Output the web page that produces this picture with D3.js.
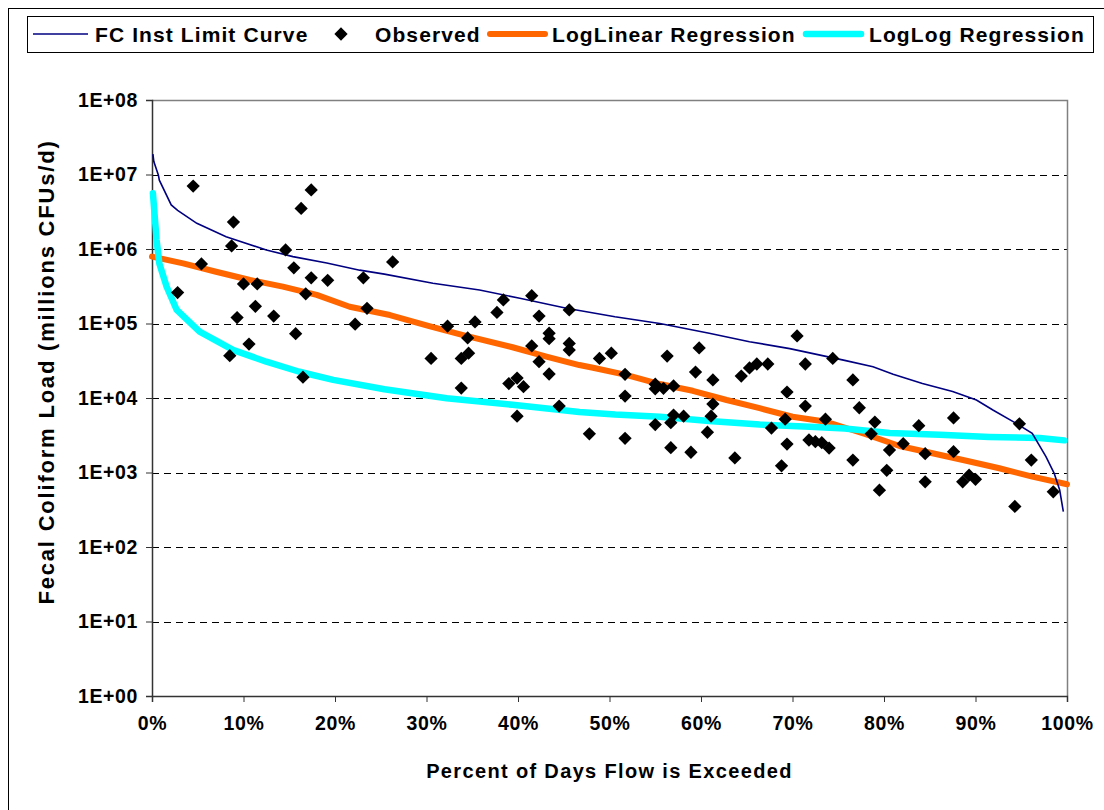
<!DOCTYPE html>
<html>
<head>
<meta charset="utf-8">
<title>Fecal Coliform Load Duration Curve</title>
<script src="https://cdn.jsdelivr.net/npm/d3@7"></script>
<style>
  html, body { margin: 0; padding: 0; background: #fff; }
  svg { display: block; font-family: "Liberation Sans", Arial, sans-serif; font-weight: bold; }
</style>
</head>
<body>
<script>
// ---- data ----
var limitPct  = [0.1, 0.2, 0.7, 0.8, 2.1, 2.8, 4.9, 8.1, 12.5, 15.4, 19.1, 22.7, 25.4, 30.7, 35.8, 40.2, 45.3, 50.6, 55.5, 60.9, 65.3, 69.7, 75.7, 78.8, 81.0, 84.2, 87.5, 90.1, 91.9, 94.4, 96.2, 97.7, 98.6, 99.2, 99.6];
var limitLoad = [1.88e7, 1.49e7, 9.8e6, 8.4e6, 3.9e6, 3.3e6, 2.21e6, 1.46e6, 9.7e5, 7.9e5, 6.5e5, 5.2e5, 4.6e5, 3.47e5, 2.82e5, 2.18e5, 1.6e5, 1.23e5, 1.0e5, 7.4e4, 5.7e4, 4.6e4, 3.2e4, 2.63e4, 2.08e4, 1.57e4, 1.22e4, 9.4e3, 6.9e3, 4.6e3, 3.36e3, 1.63e3, 975, 582, 298];

var obsPct = [4.5, 17.4, 16.3, 8.9, 8.7, 14.6, 5.4, 15.5, 17.4, 19.2, 23.1, 10.0, 11.5, 2.8, 16.8, 11.3, 23.5, 9.3, 13.3, 22.2, 15.7, 10.6, 8.5, 16.5,
  26.3, 41.5, 38.4, 37.7, 42.3, 45.6, 32.3, 35.3, 34.5, 43.4, 43.4, 45.6, 45.6, 41.5, 30.5, 33.8, 34.6, 42.3, 43.4, 48.9, 50.2, 33.8, 39.0, 39.9, 40.6, 39.9, 44.5, 47.8,
  56.3, 59.8, 70.5, 74.4, 51.7, 59.4, 61.3, 64.4, 65.3, 66.1, 67.3, 71.4, 55.0, 55.0, 55.9, 57.0, 51.7, 69.4, 61.3, 71.4, 57.0, 58.1, 61.1, 56.7, 55.0, 69.2, 73.6, 67.7, 60.7, 51.7, 71.8, 72.5, 73.2, 74.0, 69.4, 56.7, 58.9, 63.7, 68.8,
  76.6, 77.3, 79.0, 78.6, 83.8, 87.6, 94.8, 76.6, 80.6, 82.1, 84.5, 87.6, 96.1, 80.3, 79.5, 84.5, 88.6, 89.3, 90.0, 94.3, 98.5];
var obsLoad = [7.0e6, 6.2e6, 3.5e6, 2.3e6, 1.1e6, 9.7e5, 6.3e5, 5.6e5, 4.1e5, 3.8e5, 4.1e5, 3.4e5, 3.4e5, 2.6e5, 2.5e5, 1.7e5, 1.6e5, 1.2e5, 1.26e5, 9.8e4, 7.3e4, 5.3e4, 3.7e4, 1.9e4,
  6.7e5, 2.36e5, 2.07e5, 1.41e5, 1.26e5, 1.52e5, 9.2e4, 1.05e5, 6.4e4, 7.4e4, 6.25e4, 5.4e4, 4.4e4, 5.0e4, 3.4e4, 3.4e4, 4.0e4, 3.07e4, 2.1e4, 3.4e4, 4.0e4, 1.36e4, 1.56e4, 1.85e4, 1.42e4, 5.7e3, 7.8e3, 3.3e3,
  3.66e4, 4.7e4, 6.8e4, 3.4e4, 2.08e4, 2.23e4, 1.75e4, 1.97e4, 2.53e4, 2.86e4, 2.86e4, 2.86e4, 1.53e4, 1.33e4, 1.35e4, 1.45e4, 1.06e4, 1.2e4, 8.3e3, 7.8e3, 5.9e3, 5.7e3, 5.7e3, 4.66e3, 4.4e3, 5.2e3, 5.2e3, 3.95e3, 3.47e3, 2.88e3, 2.73e3, 2.59e3, 2.51e3, 2.13e3, 2.41e3, 2.15e3, 1.87e3, 1.57e3, 1.23e3,
  1.75e4, 7.4e3, 4.76e3, 3.3e3, 4.25e3, 5.4e3, 4.5e3, 1.47e3, 2.0e3, 2.44e3, 1.79e3, 1.9e3, 1.47e3, 1.07e3, 580, 750, 750, 920, 810, 350, 550];

var loglinPct  = [0, 3.4, 7.0, 10.7, 14.3, 18.0, 21.6, 26.0, 30.3, 34.0, 39.4, 43.1, 46.7, 48.2, 51.8, 55.5, 59.1, 62.8, 66.4, 70.0, 73.7, 78.0, 81.7, 85.3, 89.0, 92.6, 96.2, 100];
var loglinLoad = [7.9e5, 6.4e5, 4.95e5, 3.84e5, 3.12e5, 2.42e5, 1.68e5, 1.3e5, 9.2e4, 7.0e4, 4.8e4, 3.6e4, 2.77e4, 2.55e4, 2.04e4, 1.54e4, 1.25e4, 9.4e3, 7.3e3, 5.6e3, 4.8e3, 3.26e3, 2.27e3, 1.81e3, 1.44e3, 1.14e3, 880, 695];

var loglogPct  = [0.1, 0.5, 0.8, 1.6, 2.7, 5.2, 8.9, 12.5, 16.1, 19.8, 25.4, 32.2, 39.4, 46.7, 50.6, 55.5, 60.9, 66.4, 71.9, 75.7, 80.6, 86.1, 91.5, 97.0, 99.7];
var loglogLoad = [5.6e6, 1.32e6, 6.4e5, 3.12e5, 1.52e5, 7.8e4, 4.4e4, 3.07e4, 2.25e4, 1.75e4, 1.31e4, 9.9e3, 8.1e3, 6.5e3, 6.0e3, 5.6e3, 4.9e3, 4.4e3, 4.1e3, 3.9e3, 3.4e3, 3.2e3, 3.0e3, 2.9e3, 2.7e3];

var yTicks = [1, 1e1, 1e2, 1e3, 1e4, 1e5, 1e6, 1e7, 1e8];
var yTickLabels = ['1E+00', '1E+01', '1E+02', '1E+03', '1E+04', '1E+05', '1E+06', '1E+07', '1E+08'];
var xTicks = [0, 10, 20, 30, 40, 50, 60, 70, 80, 90, 100];
var xTickLabels = ['0%', '10%', '20%', '30%', '40%', '50%', '60%', '70%', '80%', '90%', '100%'];

var legendNames = ['FC Inst Limit Curve', 'Observed', 'LogLinear Regression', 'LogLog Regression'];

// ---- drawing ----
var width = 1104, height = 810;
var svg = d3.select('body').append('svg').attr('width', width).attr('height', height);

var plot = {left: 152, right: 1067, top: 100, bottom: 696};
var x = d3.scaleLinear().domain([0, 100]).range([plot.left, plot.right]);
var y = d3.scaleLog().domain([1, 1e8]).range([plot.bottom, plot.top]);

// outer chart border
svg.append('rect').attr('x', 8.5).attr('y', 8.5).attr('width', 1110).attr('height', 820)
  .attr('fill', 'none').attr('stroke', '#000').attr('stroke-width', 1);

// gridlines
svg.append('g').selectAll('line').data(yTicks.slice(1, -1)).enter().append('line')
  .attr('x1', plot.left).attr('x2', plot.right)
  .attr('y1', function(d){ return Math.round(y(d)) + 0.5; })
  .attr('y2', function(d){ return Math.round(y(d)) + 0.5; })
  .attr('stroke', '#000').attr('stroke-width', 1).attr('stroke-dasharray', '7,5');

// plot area border (top, right)
svg.append('path')
  .attr('d', 'M' + plot.left + ',' + (plot.top + 0.5) + 'H' + (plot.right + 0.5) + 'V' + plot.bottom)
  .attr('fill', 'none').attr('stroke', '#808080').attr('stroke-width', 1.5);

// axes
var yAxis = d3.axisLeft(y).tickValues(yTicks).tickSize(6).tickPadding(8)
  .tickFormat(function(d, i){ return yTickLabels[i]; });
var xAxis = d3.axisBottom(x).tickValues(xTicks).tickSize(6).tickPadding(14)
  .tickFormat(function(d, i){ return xTickLabels[i]; });

var gy = svg.append('g').attr('transform', 'translate(' + plot.left + ',0)').call(yAxis);
var gx = svg.append('g').attr('transform', 'translate(0,' + plot.bottom + ')').call(xAxis);
[gx, gy].forEach(function(g){
  g.select('.domain').attr('stroke', '#333').attr('stroke-width', 1.5);
  g.selectAll('.tick line').attr('stroke', '#333');
  g.selectAll('text').attr('fill', '#000').style('font-size', '19.5px')
    .style('font-family', '"Liberation Sans", Arial, sans-serif').style('font-weight', 'bold')
    .style('letter-spacing', '0.6px');
});

// axis titles
svg.append('text').attr('x', (plot.left + plot.right) / 2).attr('y', 778)
  .attr('text-anchor', 'middle').style('font-size', '20px').style('letter-spacing', '1.35px')
  .text('Percent of Days Flow is Exceeded');
svg.append('text').attr('transform', 'translate(54,372) rotate(-90)')
  .attr('text-anchor', 'middle').style('font-size', '22px').style('letter-spacing', '1.8px')
  .text('Fecal Coliform Load (millions CFUs/d)');

// series
function series(px, py) {
  return px.map(function(p, i){ return [p, py[i]]; });
}
var line = d3.line().x(function(d){ return x(d[0]); }).y(function(d){ return y(d[1]); });

var gSeries = svg.append('g');
gSeries.append('path').datum(series(loglinPct, loglinLoad)).attr('d', line)
  .attr('fill', 'none').attr('stroke', '#FF6600').attr('stroke-width', 6)
  .attr('stroke-linecap', 'round').attr('stroke-linejoin', 'round');
gSeries.append('path').datum(series(loglogPct, loglogLoad)).attr('d', line)
  .attr('fill', 'none').attr('stroke', '#00FFFF').attr('stroke-width', 6.5)
  .attr('stroke-linecap', 'round').attr('stroke-linejoin', 'round');
gSeries.append('path').datum(series(limitPct, limitLoad)).attr('d', line)
  .attr('fill', 'none').attr('stroke', '#000080').attr('stroke-width', 1.6);

var diamond = d3.symbol().type(d3.symbolSquare).size(88);
gSeries.selectAll('.obs').data(series(obsPct, obsLoad)).enter().append('path')
  .attr('class', 'obs')
  .attr('d', diamond)
  .attr('transform', function(d){ return 'translate(' + x(d[0]) + ',' + y(d[1]) + ') rotate(45)'; })
  .attr('fill', '#000');

// legend
var lg = svg.append('g');
lg.append('rect').attr('x', 27.5).attr('y', 16.5).attr('width', 1066).attr('height', 36)
  .attr('fill', '#fff').attr('stroke', '#000').attr('stroke-width', 1);
var ly = 34;
var items = [
  {x: 33, text: 95, kind: 'line', color: '#000080', w: 1.6},
  {x: 341, text: 375, kind: 'marker'},
  {x: 490, text: 552, kind: 'line', color: '#FF6600', w: 6},
  {x: 806, text: 869, kind: 'line', color: '#00FFFF', w: 6.5}
];
items.forEach(function(it, i){
  if (it.kind === 'line') {
    lg.append('line').attr('x1', it.x).attr('x2', it.x + 55).attr('y1', ly).attr('y2', ly)
      .attr('stroke', it.color).attr('stroke-width', it.w)
      .attr('stroke-linecap', it.w > 2 ? 'round' : 'butt');
  } else {
    lg.append('path').attr('d', diamond).attr('transform', 'translate(' + it.x + ',' + ly + ') rotate(45)').attr('fill', '#000');
  }
  lg.append('text').attr('x', it.text).attr('y', ly + 7.5)
    .style('font-size', '21px').style('letter-spacing', '1.1px').text(legendNames[i]);
});
</script>
</body>
</html>
